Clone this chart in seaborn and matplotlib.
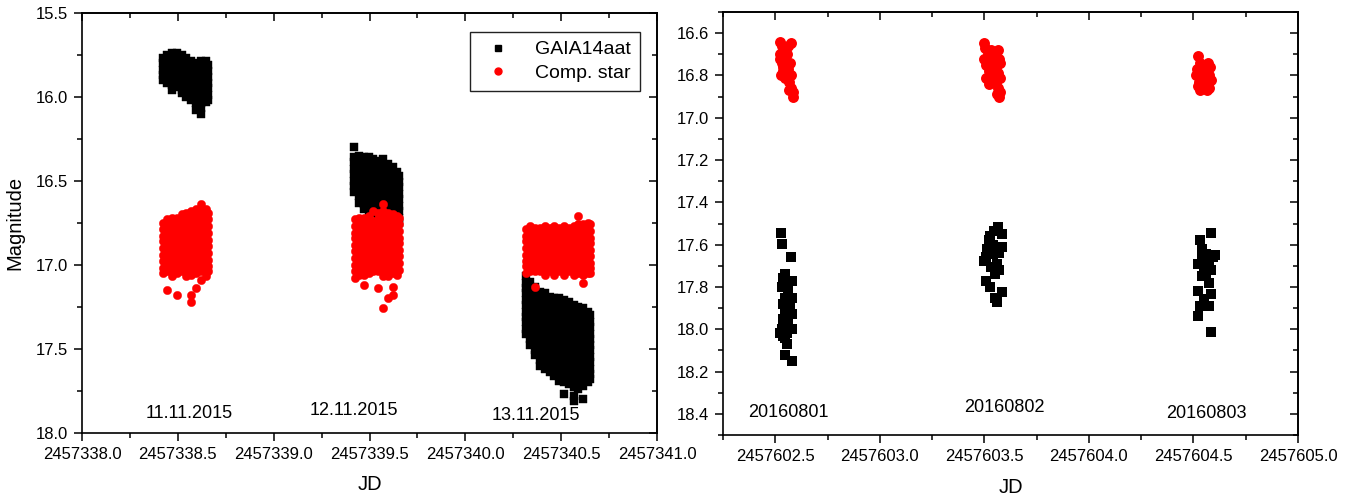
import matplotlib
matplotlib.use("Agg")
import matplotlib.pyplot as plt
import pandas as pd
import seaborn as sns
from matplotlib.ticker import MultipleLocator, FormatStrFormatter
from matplotlib.lines import Line2D

sns.set_style("ticks")
plt.rcParams['font.family'] = ['Liberation Sans', 'DejaVu Sans']
for k in ['text.color', 'axes.labelcolor', 'xtick.color', 'ytick.color', 'axes.edgecolor']:
    plt.rcParams[k] = 'black'

# ---------------- data ----------------
JD_2015 = 2457338.0   # base JD of left panel (night index added)
JD_2016 = 2457602.0   # base JD of right panel

# Left panel: observation column times (fraction of day) and magnitudes in each column
# Night 1 (11.11.2015)
gaia_n1_t = [0.420, 0.445, 0.470, 0.495, 0.520, 0.545, 0.570, 0.595, 0.620, 0.645, 0.658]
gaia_n1_m = [
    [15.77, 15.80, 15.84, 15.87, 15.90],
    [15.75, 15.78, 15.81, 15.85, 15.88, 15.92],
    [15.74, 15.77, 15.80, 15.84, 15.87, 15.90, 15.93, 15.96],
    [15.74, 15.77, 15.81, 15.84, 15.87, 15.91, 15.94],
    [15.75, 15.79, 15.82, 15.85, 15.89, 15.92, 15.96, 15.98],
    [15.77, 15.80, 15.83, 15.87, 15.90, 15.94, 15.97, 16.00],
    [15.79, 15.82, 15.86, 15.89, 15.93, 15.96, 15.99, 16.02],
    [15.80, 15.84, 15.87, 15.90, 15.94, 15.97, 16.01, 16.04, 16.08],
    [15.79, 15.83, 15.86, 15.90, 15.93, 15.97, 16.00, 16.04, 16.07, 16.10],
    [15.79, 15.82, 15.86, 15.89, 15.93, 15.96, 16.00, 16.03],
    [15.81, 15.85, 15.88, 15.92, 15.95, 15.99, 16.02],
]
comp_n1_t = [0.420, 0.445, 0.470, 0.495, 0.520, 0.545, 0.570, 0.595, 0.620, 0.645, 0.658]
comp_n1_m = [
    [16.75, 16.79, 16.83, 16.86, 16.90, 16.94, 16.98, 17.02, 17.05],
    [16.73, 16.77, 16.81, 16.85, 16.88, 16.92, 16.96, 17.00, 17.04, 17.15],
    [16.72, 16.76, 16.80, 16.83, 16.87, 16.91, 16.95, 16.99, 17.03, 17.07],
    [16.72, 16.75, 16.79, 16.83, 16.87, 16.90, 16.94, 16.98, 17.02, 17.05, 17.18],
    [16.70, 16.74, 16.78, 16.82, 16.85, 16.89, 16.93, 16.97, 17.01, 17.04],
    [16.69, 16.73, 16.77, 16.80, 16.84, 16.88, 16.92, 16.96, 16.99, 17.03, 17.07],
    [16.68, 16.71, 16.75, 16.79, 16.83, 16.87, 16.90, 16.94, 16.98, 17.02, 17.06, 17.18, 17.22],
    [16.67, 16.70, 16.74, 16.78, 16.82, 16.86, 16.90, 16.93, 16.97, 17.01, 17.05, 17.14],
    [16.64, 16.68, 16.72, 16.76, 16.80, 16.84, 16.88, 16.92, 16.96, 17.00, 17.04, 17.09],
    [16.67, 16.71, 16.75, 16.79, 16.83, 16.86, 16.90, 16.94, 16.98, 17.02, 17.07],
    [16.69, 16.73, 16.77, 16.81, 16.85, 16.89, 16.93, 16.97, 17.01, 17.04],
]

# Night 2 (12.11.2015)
gaia_n2_t = [0.420, 0.445, 0.470, 0.495, 0.520, 0.545, 0.570, 0.595, 0.620, 0.645, 0.652]
gaia_n2_m = [
    [16.30, 16.36, 16.39, 16.43, 16.46, 16.50, 16.53, 16.57],
    [16.35, 16.38, 16.42, 16.45, 16.49, 16.52, 16.56, 16.59, 16.63],
    [16.36, 16.39, 16.43, 16.46, 16.50, 16.53, 16.57, 16.60, 16.64, 16.67],
    [16.36, 16.40, 16.43, 16.47, 16.50, 16.54, 16.57, 16.61, 16.64, 16.68],
    [16.37, 16.40, 16.44, 16.47, 16.51, 16.54, 16.58, 16.61, 16.65, 16.69],
    [16.38, 16.41, 16.45, 16.48, 16.52, 16.55, 16.59, 16.62, 16.66, 16.70],
    [16.37, 16.42, 16.45, 16.49, 16.52, 16.56, 16.59, 16.63, 16.66, 16.70],
    [16.40, 16.43, 16.47, 16.50, 16.54, 16.57, 16.61, 16.64, 16.68, 16.71],
    [16.42, 16.45, 16.49, 16.52, 16.56, 16.59, 16.63, 16.66, 16.70, 16.73],
    [16.45, 16.48, 16.52, 16.55, 16.59, 16.62, 16.66, 16.69, 16.73],
    [16.47, 16.51, 16.54, 16.58, 16.61, 16.65, 16.68, 16.72, 16.75],
]
comp_n2_t = [0.425, 0.445, 0.470, 0.495, 0.520, 0.545, 0.570, 0.595, 0.620, 0.645, 0.655]
comp_n2_m = [
    [16.73, 16.77, 16.81, 16.84, 16.88, 16.92, 16.96, 17.00, 17.04, 17.08],
    [16.72, 16.76, 16.80, 16.84, 16.87, 16.91, 16.95, 16.99, 17.03, 17.06],
    [16.72, 16.75, 16.79, 16.83, 16.87, 16.91, 16.94, 16.98, 17.02, 17.06, 17.12],
    [16.71, 16.75, 16.79, 16.82, 16.86, 16.90, 16.94, 16.98, 17.01, 17.05],
    [16.68, 16.74, 16.78, 16.82, 16.85, 16.89, 16.93, 16.97, 17.01, 17.04],
    [16.69, 16.73, 16.77, 16.81, 16.85, 16.88, 16.92, 16.96, 17.00, 17.04, 17.14],
    [16.64, 16.68, 16.72, 16.76, 16.80, 16.84, 16.88, 16.91, 16.95, 16.99, 17.03, 17.07, 17.26],
    [16.69, 16.73, 16.77, 16.81, 16.84, 16.88, 16.92, 16.96, 17.00, 17.03, 17.07, 17.20],
    [16.70, 16.74, 16.78, 16.82, 16.86, 16.89, 16.93, 16.97, 17.01, 17.05, 17.13, 17.18],
    [16.71, 16.75, 16.79, 16.82, 16.86, 16.90, 16.94, 16.98, 17.02, 17.06],
    [16.72, 16.76, 16.80, 16.84, 16.87, 16.91, 16.95, 16.99, 17.03],
]

# Night 3 (13.11.2015)
gaia_n3_t = [0.315, 0.340, 0.365, 0.390, 0.415, 0.440, 0.465, 0.490, 0.515, 0.540,
             0.565, 0.590, 0.615, 0.640, 0.650]
gaia_n3_m = [
    [17.07, 17.11, 17.14, 17.17, 17.21, 17.24, 17.28, 17.31, 17.34, 17.38, 17.41],
    [17.10, 17.13, 17.17, 17.20, 17.24, 17.27, 17.30, 17.34, 17.37, 17.41, 17.44, 17.48],
    [17.13, 17.16, 17.20, 17.23, 17.27, 17.30, 17.33, 17.37, 17.40, 17.44, 17.47, 17.51, 17.54],
    [17.16, 17.19, 17.23, 17.26, 17.30, 17.33, 17.36, 17.40, 17.43, 17.47, 17.50, 17.54, 17.57, 17.60],
    [17.17, 17.21, 17.24, 17.28, 17.31, 17.34, 17.38, 17.41, 17.45, 17.48, 17.52, 17.55, 17.59, 17.62],
    [17.19, 17.22, 17.26, 17.29, 17.33, 17.36, 17.39, 17.43, 17.46, 17.50, 17.53, 17.57, 17.60, 17.64],
    [17.20, 17.23, 17.27, 17.30, 17.34, 17.37, 17.41, 17.44, 17.48, 17.51, 17.55, 17.58, 17.62, 17.66],
    [17.20, 17.24, 17.27, 17.31, 17.34, 17.38, 17.41, 17.45, 17.48, 17.52, 17.55, 17.59, 17.62, 17.66, 17.69],
    [17.21, 17.24, 17.28, 17.31, 17.35, 17.38, 17.42, 17.45, 17.49, 17.52, 17.56, 17.59, 17.63, 17.66, 17.70, 17.77],
    [17.22, 17.25, 17.29, 17.32, 17.36, 17.39, 17.43, 17.46, 17.50, 17.53, 17.57, 17.60, 17.64, 17.67, 17.71],
    [17.24, 17.27, 17.31, 17.34, 17.38, 17.41, 17.45, 17.48, 17.52, 17.55, 17.59, 17.62, 17.66, 17.69, 17.73, 17.78, 17.81],
    [17.25, 17.28, 17.32, 17.35, 17.39, 17.42, 17.46, 17.49, 17.53, 17.56, 17.60, 17.63, 17.67, 17.70, 17.74],
    [17.26, 17.30, 17.33, 17.37, 17.40, 17.44, 17.47, 17.51, 17.54, 17.58, 17.61, 17.65, 17.68, 17.72, 17.80],
    [17.28, 17.31, 17.35, 17.38, 17.42, 17.45, 17.49, 17.52, 17.56, 17.59, 17.63, 17.66, 17.70],
    [17.30, 17.34, 17.37, 17.41, 17.44, 17.48, 17.51, 17.55, 17.58, 17.62, 17.65, 17.68],
]
comp_n3_t = [0.315, 0.340, 0.365, 0.390, 0.415, 0.440, 0.465, 0.490, 0.515, 0.540,
             0.565, 0.590, 0.615, 0.640, 0.650]
comp_n3_m = [
    [16.79, 16.83, 16.86, 16.90, 16.94, 16.98, 17.01, 17.05],
    [16.77, 16.81, 16.85, 16.88, 16.92, 16.96, 17.00, 17.04],
    [16.78, 16.82, 16.85, 16.89, 16.93, 16.97, 17.00, 17.04, 17.13],
    [16.78, 16.81, 16.85, 16.89, 16.93, 16.96, 17.00, 17.04],
    [16.77, 16.81, 16.84, 16.88, 16.92, 16.96, 16.99, 17.03, 17.06],
    [16.78, 16.82, 16.86, 16.89, 16.93, 16.97, 17.01, 17.04],
    [16.77, 16.81, 16.85, 16.88, 16.92, 16.96, 17.00, 17.03, 17.06],
    [16.78, 16.82, 16.85, 16.89, 16.93, 16.97, 17.00, 17.04],
    [16.77, 16.80, 16.84, 16.88, 16.92, 16.95, 16.99, 17.03, 17.06],
    [16.78, 16.82, 16.86, 16.89, 16.93, 16.97, 17.01, 17.04],
    [16.77, 16.81, 16.84, 16.88, 16.92, 16.96, 16.99, 17.03, 17.06],
    [16.71, 16.76, 16.80, 16.84, 16.87, 16.91, 16.95, 16.99, 17.02, 17.05],
    [16.76, 16.79, 16.83, 16.87, 16.91, 16.94, 16.98, 17.02, 17.06, 17.11],
    [16.75, 16.79, 16.82, 16.86, 16.90, 16.94, 16.97, 17.01, 17.05],
    [16.76, 16.80, 16.84, 16.87, 16.91, 16.95, 16.99, 17.02, 17.05],
]

# Right panel (2016): individual points, time = fraction of day after JD_2016 + night index
gaia16_n1_t = [0.527, 0.530, 0.573, 0.538, 0.578, 0.554, 0.530, 0.562, 0.546, 0.578, 0.538, 0.570,
               0.546, 0.578, 0.538, 0.562, 0.530, 0.554, 0.578, 0.546, 0.554, 0.546, 0.578, 0.538,
               0.562, 0.522, 0.562, 0.546]
gaia16_n1_m = [17.545, 17.595, 17.658, 17.76, 17.77, 17.78, 17.80, 17.83, 17.85, 17.85, 17.88, 17.90,
               17.91, 17.93, 17.95, 17.96, 18.00, 18.02, 18.00, 18.04, 18.07, 18.12, 18.15, 18.03,
               17.98, 18.02, 17.81, 17.74]
comp16_n1_t = [0.522, 0.532, 0.575, 0.562, 0.522, 0.538, 0.555, 0.530, 0.546, 0.570, 0.538, 0.553,
               0.575, 0.546, 0.565, 0.575, 0.565, 0.586, 0.583, 0.538, 0.522, 0.528, 0.560]
comp16_n1_m = [16.64, 16.66, 16.645, 16.66, 16.70, 16.71, 16.70, 16.74, 16.75, 16.74, 16.78, 16.79,
               16.80, 16.81, 16.83, 16.86, 16.87, 16.88, 16.90, 16.76, 16.72, 16.80, 16.77]

gaia16_n2_t = [0.566, 0.547, 0.582, 0.527, 0.582, 0.521, 0.510, 0.500, 0.541, 0.562, 0.531, 0.572,
               0.510, 0.551, 0.527, 0.582, 0.562, 0.551, 0.572, 0.514, 0.541]
gaia16_n2_m = [17.518, 17.535, 17.55, 17.56, 17.61, 17.58, 17.66, 17.675, 17.645, 17.69, 17.707, 17.72,
               17.77, 17.74, 17.80, 17.825, 17.87, 17.85, 17.64, 17.62, 17.60]
comp16_n2_t = [0.500, 0.505, 0.515, 0.500, 0.510, 0.520, 0.510, 0.520, 0.530, 0.535, 0.545, 0.565,
               0.570, 0.560, 0.575, 0.565, 0.575, 0.555, 0.565, 0.575, 0.560, 0.570, 0.540, 0.530, 0.550]
comp16_n2_m = [16.645, 16.67, 16.70, 16.72, 16.75, 16.78, 16.81, 16.84, 16.72, 16.76, 16.70, 16.68,
               16.72, 16.75, 16.74, 16.79, 16.81, 16.83, 16.86, 16.88, 16.89, 16.90, 16.80, 16.68, 16.77]

gaia16_n3_t = [0.582, 0.531, 0.541, 0.562, 0.593, 0.521, 0.551, 0.582, 0.541, 0.572, 0.521, 0.551,
               0.582, 0.531, 0.572, 0.521, 0.586, 0.603, 0.558, 0.541, 0.572]
gaia16_n3_m = [17.546, 17.58, 17.62, 17.645, 17.66, 17.69, 17.71, 17.72, 17.75, 17.78, 17.82, 17.855,
               17.835, 17.89, 17.89, 17.935, 18.015, 17.65, 17.74, 17.67, 17.69]
comp16_n3_t = [0.520, 0.530, 0.570, 0.580, 0.515, 0.535, 0.560, 0.510, 0.550, 0.575, 0.525, 0.585,
               0.520, 0.545, 0.570, 0.530, 0.565, 0.575, 0.540, 0.560]
comp16_n3_m = [16.71, 16.74, 16.74, 16.76, 16.77, 16.78, 16.78, 16.80, 16.81, 16.80, 16.83, 16.82,
               16.85, 16.85, 16.84, 16.87, 16.87, 16.86, 16.76, 16.83]

night_labels_2015 = ["11.11.2015", "12.11.2015", "13.11.2015"]
night_labels_2016 = ["20160801", "20160802", "20160803"]
series_names = ["GAIA14aat", "Comp. star"]


def columns_frame(base, night, t_cols, m_cols):
    xs, ys = [], []
    for t, col in zip(t_cols, m_cols):
        for m in col:
            xs.append(base + night + t)
            ys.append(m)
    return pd.DataFrame({"JD": xs, "Magnitude": ys})


def points_frame(base, night, ts, ms):
    return pd.DataFrame({"JD": [base + night + t for t in ts], "Magnitude": ms})


gaia15 = pd.concat([columns_frame(JD_2015, 0, gaia_n1_t, gaia_n1_m),
                    columns_frame(JD_2015, 1, gaia_n2_t, gaia_n2_m),
                    columns_frame(JD_2015, 2, gaia_n3_t, gaia_n3_m)])
comp15 = pd.concat([columns_frame(JD_2015, 0, comp_n1_t, comp_n1_m),
                    columns_frame(JD_2015, 1, comp_n2_t, comp_n2_m),
                    columns_frame(JD_2015, 2, comp_n3_t, comp_n3_m)])
gaia16 = pd.concat([points_frame(JD_2016, 0, gaia16_n1_t, gaia16_n1_m),
                    points_frame(JD_2016, 1, gaia16_n2_t, gaia16_n2_m),
                    points_frame(JD_2016, 2, gaia16_n3_t, gaia16_n3_m)])
comp16 = pd.concat([points_frame(JD_2016, 0, comp16_n1_t, comp16_n1_m),
                    points_frame(JD_2016, 1, comp16_n2_t, comp16_n2_m),
                    points_frame(JD_2016, 2, comp16_n3_t, comp16_n3_m)])

# ---------------- figure ----------------
fig = plt.figure(figsize=(13.56, 5.03), dpi=100)
axL = fig.add_axes([82 / 1356, 1 - 432.7 / 503, 575 / 1356, 420 / 503])
axR = fig.add_axes([723 / 1356, 1 - 435 / 503, 575 / 1356, 423 / 503])

sns.scatterplot(data=gaia15, x="JD", y="Magnitude", ax=axL, marker="s", color="black",
                s=30, linewidth=0.3, edgecolor="black", legend=False)
sns.scatterplot(data=comp15, x="JD", y="Magnitude", ax=axL, marker="o", color="red",
                s=36, linewidth=0.3, edgecolor="red", legend=False)
sns.scatterplot(data=gaia16, x="JD", y="Magnitude", ax=axR, marker="s", color="black",
                s=42, linewidth=0, legend=False)
sns.scatterplot(data=comp16, x="JD", y="Magnitude", ax=axR, marker="o", color="red",
                s=62, linewidth=0, legend=False)

TICK_FS = 12


def style_axis(ax, xlim, ylim, xmaj, xmin, ymaj, ymin):
    ax.set_xlim(*xlim)
    ax.set_ylim(*ylim)
    ax.xaxis.set_major_locator(MultipleLocator(xmaj))
    ax.xaxis.set_minor_locator(MultipleLocator(xmin))
    ax.yaxis.set_major_locator(MultipleLocator(ymaj))
    ax.yaxis.set_minor_locator(MultipleLocator(ymin))
    ax.xaxis.set_major_formatter(FormatStrFormatter("%.1f"))
    ax.yaxis.set_major_formatter(FormatStrFormatter("%.1f"))
    ax.tick_params(which="major", direction="out", length=6, width=1.1,
                   labelsize=TICK_FS, pad=4, colors="black")
    ax.tick_params(which="minor", direction="out", length=3.4, width=1.1, colors="black")
    for sp in ax.spines.values():
        sp.set_visible(True)
        sp.set_linewidth(1.2)
        sp.set_color("black")
    top = ax.secondary_xaxis("top")
    top.xaxis.set_major_locator(MultipleLocator(xmaj))
    top.xaxis.set_minor_locator(MultipleLocator(xmin))
    top.tick_params(which="major", direction="in", length=6, width=1.1, labeltop=False,
                    colors="black")
    top.tick_params(which="minor", direction="in", length=3.4, width=1.1, colors="black")
    top.spines["top"].set_linewidth(1.2)
    right = ax.secondary_yaxis("right")
    right.yaxis.set_major_locator(MultipleLocator(ymaj))
    right.yaxis.set_minor_locator(MultipleLocator(ymin))
    right.tick_params(which="major", direction="in", length=6, width=1.1, labelright=False,
                      colors="black")
    right.tick_params(which="minor", direction="in", length=3.4, width=1.1, colors="black")
    right.spines["right"].set_linewidth(1.2)
    ax.set_xlabel("JD", fontsize=14.5, labelpad=10, color="black")


style_axis(axL, (2457338.0, 2457341.0), (18.0, 15.5), 0.5, 0.25, 0.5, 0.25)
style_axis(axR, (2457602.25, 2457605.0), (18.5, 16.5), 0.5, 0.25, 0.2, 0.1)
axL.set_ylabel("Magnitude", fontsize=14.5, labelpad=8, color="black")
axR.set_ylabel("")

# date annotations
for (xv, yv), lab in zip([(2457338.56, 17.883), (2457339.419, 17.87), (2457340.369, 17.895)],
                         night_labels_2015):
    axL.text(xv, yv, lab, ha="center", va="center", fontsize=13, color="black")
for (xv, yv), lab in zip([(2457602.562, 18.392), (2457603.597, 18.368), (2457604.564, 18.40)],
                         night_labels_2016):
    axR.text(xv, yv, lab, ha="center", va="center", fontsize=13, color="black")

handles = [Line2D([], [], ls="", marker="s", color="black", markersize=4.5),
           Line2D([], [], ls="", marker="o", color="red", markersize=5)]
leg = axL.legend(handles, series_names, loc="upper right", bbox_to_anchor=(0.970, 0.954),
                 borderaxespad=0, fontsize=14, frameon=True, fancybox=False, framealpha=1,
                 edgecolor="#222222", handlelength=2.0, handletextpad=0.9,
                 borderpad=0.45, labelspacing=0.3)
leg.get_frame().set_linewidth(1.0)
for t in leg.get_texts():
    t.set_color("black")

fig.savefig("out.png", dpi=100)
